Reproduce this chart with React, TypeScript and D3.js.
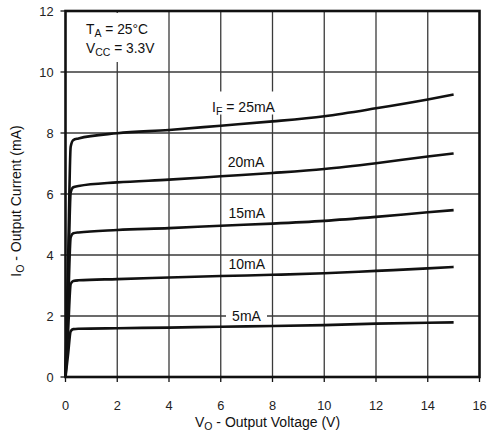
import React from "react";
import * as d3 from "d3";

const voltage = [0, 0.1, 0.2, 0.3, 0.5, 2, 4, 6, 8, 10, 12, 14, 15];
const i25 = [0, 3.8, 7.55, 7.77, 7.82, 7.99, 8.1, 8.24, 8.38, 8.55, 8.81, 9.1, 9.26];
const i20 = [0, 3.0, 6.05, 6.22, 6.26, 6.38, 6.47, 6.58, 6.69, 6.82, 7.01, 7.23, 7.33];
const i15 = [0, 2.3, 4.58, 4.71, 4.74, 4.82, 4.88, 4.96, 5.03, 5.12, 5.25, 5.4, 5.47];
const i10 = [0, 1.5, 3.05, 3.15, 3.17, 3.21, 3.26, 3.31, 3.35, 3.4, 3.48, 3.56, 3.61];
const i5 = [0, 0.75, 1.5, 1.57, 1.58, 1.6, 1.62, 1.65, 1.67, 1.7, 1.75, 1.78, 1.79];

const seriesNames = ["25mA", "20mA", "15mA", "10mA", "5mA"];
const xTicks = [0, 2, 4, 6, 8, 10, 12, 14, 16];
const yTicks = [0, 2, 4, 6, 8, 10, 12];

const W = 487;
const H = 433;
const FONT = "'Liberation Sans', Arial, Helvetica, sans-serif";

export default function App() {
  const x = d3.scaleLinear().domain([0, 16]).range([65.5, 479.5]);
  const y = d3.scaleLinear().domain([0, 12]).range([377, 11]);
  const series = [i25, i20, i15, i10, i5];
  const line = d3
    .line<number>()
    .x((_, k) => x(voltage[k]))
    .y((d) => y(d))
    .curve(d3.curveMonotoneX);

  const labelPos: { cx: number; by: number; w: number; top: number }[] = [
    { cx: 243.5, by: 111.5, w: 78, top: 20 },
    { cx: 246, by: 167.3, w: 44, top: 13 },
    { cx: 246.8, by: 218, w: 44, top: 13 },
    { cx: 246.8, by: 269.3, w: 44, top: 12 },
    { cx: 246.5, by: 321, w: 41, top: 13 },
  ];

  const grid = "#3a3a3a";
  return (
    <svg
      width={W}
      height={H}
      style={{ position: "absolute", left: 0, top: 0, background: "#fff" }}
      fontFamily={FONT}
    >
      <rect x={0} y={0} width={W} height={H} fill="#fff" />
      {/* gridlines */}
      {xTicks
        .filter((t) => t > 0 && t < 16)
        .map((t) => (
          <line key={"gx" + t} x1={x(t)} x2={x(t)} y1={y(12)} y2={y(0)} stroke={grid} strokeWidth={1.3} />
        ))}
      {yTicks
        .filter((t) => t > 0 && t < 12)
        .map((t) => (
          <line key={"gy" + t} x1={x(0)} x2={x(16)} y1={y(t)} y2={y(t)} stroke={grid} strokeWidth={1.3} />
        ))}
      {/* annotation box */}
      <rect x={78} y={13} width={84} height={49} fill="#fff" />
      <text x={86} y={34.3} fontSize={13.8} fill="#111">
        T<tspan fontSize={10.5} dy={3}>A</tspan>
        <tspan dy={-3}> = 25°C</tspan>
      </text>
      <text x={86} y={53.3} fontSize={13.8} fill="#111">
        V<tspan fontSize={10.5} dy={3}>CC</tspan>
        <tspan dy={-3}> = 3.3V</tspan>
      </text>
      {/* series labels */}
      {seriesNames.map((n, k) => {
        const p = labelPos[k];
        return (
          <g key={"lab" + n}>
            <rect x={p.cx - p.w / 2} y={p.by - p.top} width={p.w} height={p.top + 3} fill="#fff" />
            {k === 0 ? (
              <text x={p.cx} y={p.by} fontSize={14} textAnchor="middle" fill="#111">
                I<tspan fontSize={10.5} dy={3}>F</tspan>
                <tspan dy={-3}> = {n}</tspan>
              </text>
            ) : (
              <text x={p.cx} y={p.by} fontSize={14} textAnchor="middle" fill="#111">
                {n}
              </text>
            )}
          </g>
        );
      })}
      {/* curves */}
      {series.map((s, k) => (
        <path key={"c" + k} d={line(s) || ""} fill="none" stroke="#111" strokeWidth={2.6} strokeLinejoin="round" />
      ))}
      {/* frame */}
      <rect x={x(0)} y={y(12)} width={x(16) - x(0)} height={y(0) - y(12)} fill="none" stroke="#111" strokeWidth={2.6} />
      {/* ticks */}
      {xTicks.map((t) => (
        <g key={"xt" + t}>
          <line x1={x(t)} x2={x(t)} y1={y(0)} y2={y(0) + 5} stroke="#111" strokeWidth={1.3} />
          <text x={x(t)} y={409.5} fontSize={12.8} textAnchor="middle" fill="#222">
            {t}
          </text>
        </g>
      ))}
      {yTicks.map((t) => (
        <g key={"yt" + t}>
          <line x1={x(0) - 5} x2={x(0)} y1={y(t)} y2={y(t)} stroke="#111" strokeWidth={1.3} />
          <text x={53.5} y={y(t) + 4.5} fontSize={12.8} textAnchor="end" fill="#222">
            {t}
          </text>
        </g>
      ))}
      {/* axis titles */}
      <text x={267.5} y={427} fontSize={14} textAnchor="middle" fill="#111">
        V<tspan fontSize={10.5} dy={3}>O</tspan>
        <tspan dy={-3}> - Output Voltage (V)</tspan>
      </text>
      <text
        transform="translate(21,201) rotate(-90)"
        fontSize={14}
        textAnchor="middle"
        fill="#111"
      >
        I<tspan fontSize={10.5} dy={3}>O</tspan>
        <tspan dy={-3}> - Output Current (mA)</tspan>
      </text>
    </svg>
  );
}
